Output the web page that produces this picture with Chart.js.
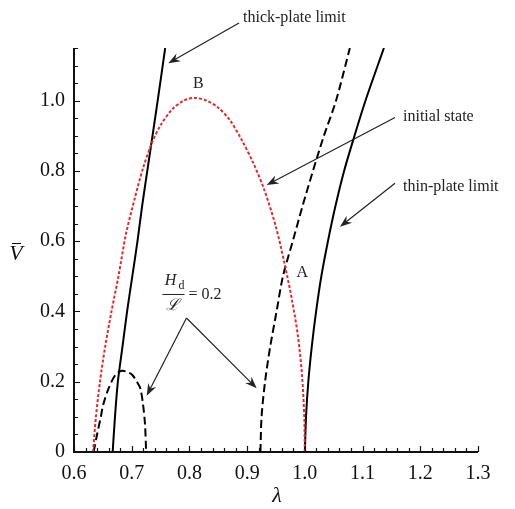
<!DOCTYPE html>
<html>
<head>
<meta charset="utf-8">
<script src="https://cdn.jsdelivr.net/npm/chart.js@4.4.0/dist/chart.umd.min.js"></script>
<style>
  html, body { margin: 0; padding: 0; background: #fff; }
</style>
</head>
<body>
<canvas id="chart" width="515" height="509"></canvas>
<script>
// ---- data (lambda, V-bar) ----
const xTicks = [0.6, 0.7, 0.8, 0.9, 1.0, 1.1, 1.2, 1.3];
const yTicks = [0, 0.2, 0.4, 0.6, 0.8, 1.0];

// thick-plate limit (solid, left)
const thickLam = [0.667, 0.671, 0.676, 0.684, 0.692, 0.701, 0.710, 0.718, 0.727, 0.736, 0.745, 0.758];
const thickV   = [0,     0.1,   0.2,   0.3,   0.4,   0.5,   0.6,   0.7,   0.8,   0.9,   1.0,   1.15];

// thin-plate limit (solid, right)
const thinLam = [1.000, 1.002, 1.006, 1.012, 1.0195, 1.0285, 1.040, 1.053, 1.068, 1.086, 1.105, 1.137];
const thinV   = [0,     0.1,   0.2,   0.3,   0.4,    0.5,    0.6,   0.7,   0.8,   0.9,   1.0,   1.15];

// initial state (red dotted)
const initLam = [0.633, 0.638, 0.645, 0.654, 0.665, 0.677, 0.690, 0.705, 0.720, 0.735, 0.750, 0.770, 0.790, 0.8085,
                 0.830, 0.850, 0.870, 0.890, 0.910, 0.930, 0.950, 0.965, 0.978, 0.988, 0.995, 0.999, 1.000];
const initV   = [0,     0.1,   0.2,   0.3,   0.4,   0.5,   0.62,  0.72,  0.81,  0.88,  0.93,  0.975, 1.0,   1.008,
                 1.0,   0.98,  0.945, 0.89,  0.825, 0.745, 0.64,  0.535, 0.43,  0.33,  0.22,  0.1,   0];

// Hd/L = 0.2, small branch (dashed)
const smallLam = [0.634, 0.640, 0.6465, 0.6505, 0.660, 0.672, 0.683, 0.6935, 0.7007, 0.709, 0.715, 0.7197, 0.723, 0.725];
const smallV   = [0,     0.05,  0.1,    0.134,  0.181, 0.22,  0.231, 0.227,  0.22,   0.2,   0.181, 0.134,  0.08,  0];

// Hd/L = 0.2, large branch (dashed)
const bigLam = [0.923, 0.925, 0.931, 0.940, 0.951, 0.962, 0.979, 0.996, 1.014, 1.033, 1.054, 1.078];
const bigV   = [0,     0.1,   0.2,   0.3,   0.4,   0.5,   0.6,   0.7,   0.8,   0.9,   1.0,   1.15];

const pts = (xs, ys) => xs.map((x, i) => ({ x: x, y: ys[i] }));

const SERIF = '"Liberation Serif", "DejaVu Serif", serif';

function line(data, color, dash, width) {
    return {
        data: data,
        showLine: true,
        borderColor: color,
        borderWidth: width || 2,
        borderDash: dash || [],
        pointRadius: 0,
        tension: 0.3,
        fill: false
    };
}

// arrow with a filled, slightly notched head
function arrow(ctx, x1, y1, x2, y2) {
    const a = Math.atan2(y2 - y1, x2 - x1);
    const len = 12, half = 4.5;
    ctx.save();
    ctx.strokeStyle = '#222';
    ctx.fillStyle = '#222';
    ctx.lineWidth = 1.2;
    ctx.beginPath();
    ctx.moveTo(x1, y1);
    ctx.lineTo(x2 - Math.cos(a) * 6, y2 - Math.sin(a) * 6);
    ctx.stroke();
    ctx.translate(x2, y2);
    ctx.rotate(a);
    ctx.beginPath();
    ctx.moveTo(0, 0);
    ctx.lineTo(-len, -half);
    ctx.lineTo(-len + 4, 0);
    ctx.lineTo(-len, half);
    ctx.closePath();
    ctx.fill();
    ctx.restore();
}

const decor = {
    id: 'decor',
    afterDraw(chart) {
        const ctx = chart.ctx;
        const xs = chart.scales.x, ys = chart.scales.y;
        const a = chart.chartArea;
        const px = v => xs.getPixelForValue(v);
        const py = v => ys.getPixelForValue(v);

        ctx.save();
        // axes
        ctx.strokeStyle = '#111';
        ctx.lineWidth = 2;
        ctx.beginPath();
        ctx.moveTo(a.left, a.top);
        ctx.lineTo(a.left, a.bottom);
        ctx.lineTo(a.right, a.bottom);
        ctx.stroke();

        // inward ticks: major + minor
        ctx.lineWidth = 1.2;
        ctx.beginPath();
        for (let i = 0; i <= 35; i++) {
            const v = 0.6 + i * 0.02;
            const x = Math.round(px(v)) + 0.5;
            const l = (i % 5 === 0) ? 6 : 4;
            ctx.moveTo(x, a.bottom);
            ctx.lineTo(x, a.bottom - l);
        }
        for (let i = 0; i <= 23; i++) {
            const v = i * 0.05;
            const y = Math.round(py(v)) + 0.5;
            const l = (i % 4 === 0) ? 6 : 4;
            ctx.moveTo(a.left, y);
            ctx.lineTo(a.left + l, y);
        }
        ctx.stroke();

        // axis titles
        ctx.fillStyle = '#111';
        ctx.textAlign = 'center';
        ctx.textBaseline = 'middle';
        ctx.font = 'italic 22px ' + SERIF;
        ctx.fillText('λ', 277, 496);
        ctx.fillText('V', 16, 254);
        ctx.lineWidth = 1;
        ctx.beginPath();
        ctx.moveTo(12, 243.5);
        ctx.lineTo(21, 243.5);
        ctx.stroke();

        // annotations
        ctx.fillStyle = '#222';
        ctx.font = '16px ' + SERIF;
        ctx.textAlign = 'left';
        ctx.textBaseline = 'alphabetic';
        ctx.fillText('thick-plate limit', px(0.8928), py(1.224));
        ctx.fillText('initial state', px(1.1701), py(0.9422));
        ctx.fillText('thin-plate limit', px(1.1701), py(0.7430));
        ctx.textAlign = 'center';
        ctx.textBaseline = 'middle';
        ctx.fillText('B', px(0.8154), py(1.0495));
        ctx.fillText('A', px(0.9956), py(0.5104));

        arrow(ctx, px(0.8859), py(1.2212), px(0.7634), py(1.1065));
        arrow(ctx, px(1.1562), py(0.9522), px(0.9339), py(0.7600));
        arrow(ctx, px(1.1562), py(0.7649), px(1.0609), py(0.6413));
        arrow(ctx, px(0.7949), py(0.3814), px(0.7260), py(0.1603));
        arrow(ctx, px(0.7949), py(0.3814), px(0.9166), py(0.1813));

        // Hd / L = 0.2
        const fx = px(0.7724), fy = py(0.4498);
        ctx.font = 'italic 16px ' + SERIF;
        ctx.textAlign = 'center';
        ctx.textBaseline = 'alphabetic';
        ctx.fillText('H', fx - 3, fy - 9);
        ctx.font = '12px ' + SERIF;
        ctx.fillText('d', fx + 8, fy - 5);
        ctx.font = 'italic 16px ' + SERIF;
        ctx.fillText('ℒ', fx - 1, fy + 16);
        ctx.lineWidth = 1;
        ctx.strokeStyle = '#222';
        ctx.beginPath();
        ctx.moveTo(fx - 11, fy + 0.5);
        ctx.lineTo(fx + 11, fy + 0.5);
        ctx.stroke();
        ctx.font = '16px ' + SERIF;
        ctx.textAlign = 'left';
        ctx.textBaseline = 'middle';
        ctx.fillText('= 0.2', fx + 15, fy + 1);
        ctx.restore();
    }
};

new Chart(document.getElementById('chart'), {
    type: 'scatter',
    data: {
        datasets: [
            line(pts(initLam, initV), '#e8262a', [3, 2], 2),
            line(pts(thickLam, thickV), '#000'),
            line(pts(thinLam, thinV), '#000'),
            line(pts(smallLam, smallV), '#000', [8, 4]),
            line(pts(bigLam, bigV), '#000', [8, 4])
        ]
    },
    options: {
        responsive: false,
        devicePixelRatio: 1,
        animation: false,
        layout: { padding: { left: 0, top: 48, right: 37, bottom: 0 } },
        plugins: { legend: { display: false }, tooltip: { enabled: false } },
        scales: {
            x: {
                type: 'linear',
                min: 0.6, max: 1.3,
                grid: { display: false, drawTicks: false },
                border: { display: false },
                afterBuildTicks: axis => { axis.ticks = xTicks.map(v => ({ value: v })); },
                afterFit: axis => { axis.height = 57; },
                ticks: {
                    padding: 10,
                    color: '#111',
                    font: { family: SERIF, size: 20 },
                    callback: v => Number(v).toFixed(1)
                }
            },
            y: {
                type: 'linear',
                min: 0, max: 1.15,
                grid: { display: false, drawTicks: false },
                border: { display: false },
                afterBuildTicks: axis => { axis.ticks = yTicks.map(v => ({ value: v })); },
                afterFit: axis => { axis.width = 74; },
                ticks: {
                    padding: 9,
                    color: '#111',
                    font: { family: SERIF, size: 20 },
                    callback: v => v === 0 ? '0' : Number(v).toFixed(1)
                }
            }
        }
    },
    plugins: [decor]
});
</script>
</body>
</html>
